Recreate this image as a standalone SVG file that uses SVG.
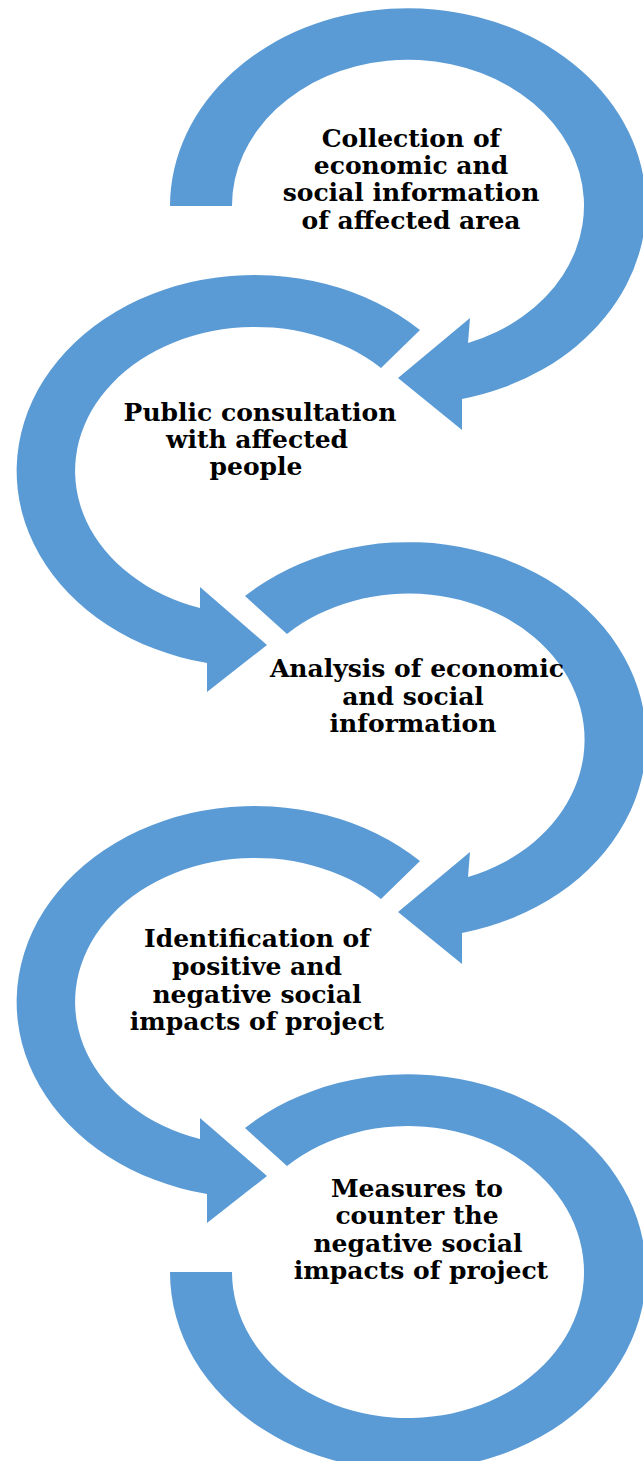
<svg xmlns="http://www.w3.org/2000/svg" width="643" height="1461" viewBox="0 0 643 1461">
<style>
.ring{fill:#5B9BD5;stroke:none}
.lbl{font-family:"DejaVu Serif","Liberation Serif",serif;font-weight:bold;font-size:25px;fill:#000;text-anchor:middle}
</style>
<rect width="643" height="1461" fill="#fff"/>
<g id="connectors">
<path id="arc1" class="ring" d="M170,206 A238,198 0 1 1 462,399 L462,430 L398,378 L470,318 L468,343 A176,146 0 1 0 232,206 Z"/>
<path id="arc2" class="ring" d="M420,330 A238,196 0 1 0 207,663 L207,692 L267,645 L200,587 L200,608 A180,144 0 1 1 381,368 Z"/>
<path id="arc3" class="ring" d="M245,596 A238,198 0 1 1 462,933 L462,964 L398,912 L470,852 L468,877 A176,146 0 1 0 287,634 Z"/>
<path id="arc4" class="ring" d="M420,861 A238,196 0 1 0 207,1194 L207,1223 L267,1176 L200,1118 L200,1139 A180,144 0 1 1 381,899 Z"/>
<path id="arc5" class="ring" d="M245,1128 A238,198 0 1 1 170,1272 L232,1272 A176,146 0 1 0 287,1166 Z"/>
</g>
<g id="node1">
<text class="lbl" x="411" y="147">Collection of</text>
<text class="lbl" x="411" y="174">economic and</text>
<text class="lbl" x="411" y="201">social information</text>
<text class="lbl" x="411" y="229">of affected area</text>
</g>
<g id="node2">
<text class="lbl" x="260" y="421">Public consultation</text>
<text class="lbl" x="257" y="448">with affected</text>
<text class="lbl" x="256" y="475">people</text>
</g>
<g id="node3">
<text class="lbl" x="417" y="677">Analysis of economic</text>
<text class="lbl" x="413" y="705">and social</text>
<text class="lbl" x="413" y="732">information</text>
</g>
<g id="node4">
<text class="lbl" x="257" y="947">Identification of</text>
<text class="lbl" x="257" y="975">positive and</text>
<text class="lbl" x="257" y="1003">negative social</text>
<text class="lbl" x="257" y="1030">impacts of project</text>
</g>
<g id="node5">
<text class="lbl" x="417" y="1197">Measures to</text>
<text class="lbl" x="417" y="1224">counter the</text>
<text class="lbl" x="418" y="1252">negative social</text>
<text class="lbl" x="421" y="1279">impacts of project</text>
</g>
</svg>
